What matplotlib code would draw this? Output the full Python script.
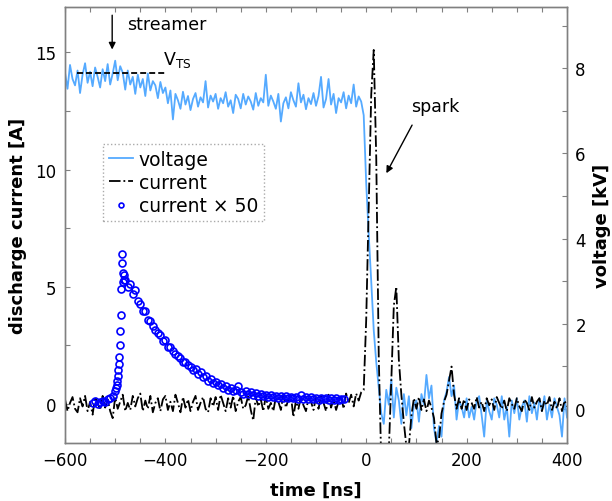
#!/usr/bin/env python3

import numpy as np
import matplotlib
matplotlib.use('Agg')
import matplotlib.pyplot as plt
from matplotlib.ticker import MultipleLocator

# sampling of the scope traces [ns]
T0 = -600
DT = 5

# voltage trace [kV], one value every DT ns starting at T0
voltage_kv = [
    7.90, 7.52, 8.08, 7.75, 7.60, 7.95, 7.42, 7.85, 8.12, 7.66,
    7.92, 7.58, 8.02, 7.80, 7.55, 7.98, 7.70, 8.10, 7.62, 7.88,
    8.18, 7.72, 8.05, 7.90, 7.50, 7.95, 7.62, 7.80, 7.40, 7.85,
    7.55, 7.75, 7.35, 7.88, 7.48, 7.70, 7.60, 7.30, 7.68, 7.42,
    7.55, 7.18, 7.48, 6.80, 7.40, 7.25, 7.05, 7.45, 7.15, 7.35,
    7.02, 7.28, 7.42, 7.10, 7.32, 7.20, 7.70, 7.08, 7.36, 7.22,
    7.40, 7.05, 7.30, 7.18, 7.44, 7.10, 7.25, 6.95, 7.38, 7.28,
    7.06, 7.40, 7.15, 7.34, 7.22, 7.03, 7.42, 7.12, 7.30, 7.20,
    7.85, 7.12, 7.36, 7.22, 7.05, 7.40, 6.75, 7.18, 7.32, 7.06,
    7.44, 7.25, 7.10, 7.65, 7.20, 7.38, 7.04, 7.30, 7.16, 7.42,
    7.12, 7.35, 7.80, 7.08, 7.28, 7.75, 7.15, 7.40, 6.95, 7.30,
    7.20, 7.44, 7.06, 7.36, 7.18, 7.62, 7.10, 7.34, 7.22, 6.90,
    5.30, 4.10, 3.00, 1.85, 1.10, 0.50, -0.10, -0.35, 0.45, 0.10,
    0.70, -0.20, 0.50, 0.20, -0.35, 0.35, -0.15, 0.30, -0.45, 0.10,
    0.20, -0.30, 0.35, 0.10, 0.80, 0.25, 0.55, -0.45, -0.80, -0.40,
    -0.65, 0.20, 0.40, 0.75, 0.30, 0.55, -0.25, 0.20, 0.05, -0.20,
    0.25, -0.20, 0.05, -0.25, 0.20, 0.30, -0.15, -0.65, 0.20, -0.05,
    -0.25, 0.25, 0.10, -0.20, 0.30, -0.25, 0.05, -0.65, 0.20, -0.10,
    0.25, -0.25, 0.05, 0.20, -0.30, 0.30, -0.10, 0.15, -0.25, 0.25,
    -0.05, 0.30, -0.25, 0.10, -0.20, 0.25, 0.05, -0.15, -0.65, 0.25,
    -0.20,
]

# discharge current [A], same sampling as the voltage
current_a = [
    0.20, -0.30, 0.05, 0.30, -0.20, -0.35, 0.25, -0.10, 0.35, -0.30,
    0.10, -0.45, 0.30, 0.05, -0.25, 0.35, -0.15, 0.20, -0.30, -0.60,
    0.30, -0.20, 0.10, 0.40, -0.30, 0.05, -0.25, 0.35, -0.10, 0.25,
    0.45, -0.30, 0.15, -0.20, 0.35, -0.35, 0.05, 0.25, -0.30, 0.20,
    0.35, -0.25, 0.10, -0.30, 0.40, 0.05, -0.35, 0.30, -0.15, 0.20,
    -0.30, 0.10, 0.35, -0.25, 0.05, 0.30, -0.20, -0.35, 0.25, -0.10,
    0.30, -0.25, 0.40, 0.05, -0.30, 0.25, -0.15, 0.35, -0.30, 0.10,
    0.30, -0.20, -0.05, 0.35, -0.25, -0.70, 0.30, -0.10, 0.20, -0.30,
    0.35, -0.20, 0.05, -0.30, 0.30, 0.10, -0.25, 0.40, -0.15, 0.20,
    0.35, -0.55, 0.15, -0.20, 0.30, -0.05, -0.30, 0.25, 0.10, -0.25,
    0.30, -0.20, 0.35, 0.05, -0.30, 0.40, -0.15, 0.20, -0.25, 0.10,
    0.35, -0.20, 0.45, 0.05, 0.40, -0.10, 0.45, 0.15, 0.50, 0.60,
    3.60, 8.50, 13.20, 15.10, 10.50, 2.00, -2.50, -3.00, -3.00, -2.00,
    1.00, 4.20, 5.00, 1.90, 0.40, -0.80, -1.80, -1.80, -0.50, 0.25,
    -0.20, 0.30, -0.25, 0.20, -0.30, 0.15, -0.15, -0.60, -1.70, -1.50,
    -0.40, 0.10, 0.40, 1.00, 1.60, 0.40, -0.20, 0.25, -0.20, 0.20,
    -0.25, 0.20, 0.05, -0.20, 0.30, -0.15, 0.10, -0.30, 0.25, -0.05,
    0.20, -0.25, 0.30, 0.05, -0.20, 0.15, -0.30, 0.25, 0.00, -0.20,
    0.25, -0.10, -0.30, 0.20, 0.05, -0.25, 0.30, -0.15, 0.10, 0.25,
    -0.30, 0.15, -0.05, 0.30, -0.25, 0.10, -0.20, 0.25, -0.30, 0.15,
    -0.10,
]

# streamer current multiplied by 50 [A]: coarse before and after the rise,
# 1 ns steps across the steep front
x50_before = [0.05, 0.12, 0.00, 0.10, 0.15, 0.08, 0.20, 0.25, 0.35, 0.55]
x50_front = [0.70, 0.80, 1.00, 1.20, 1.45, 1.70, 2.00, 2.50, 3.10,
             3.80, 4.90, 6.00, 6.40, 5.60, 5.20, 5.50, 5.30]
x50_decay = [
    5.30, 5.00, 5.10, 4.70, 4.85, 4.40, 4.25, 3.95, 3.95, 3.60,
    3.55, 3.35, 3.15, 3.05, 2.95, 2.70, 2.75, 2.45, 2.45, 2.25,
    2.15, 2.05, 1.95, 1.80, 1.80, 1.65, 1.60, 1.45, 1.50, 1.30,
    1.35, 1.15, 1.20, 1.00, 1.05, 0.90, 0.95, 0.80, 0.85, 0.70,
    0.78, 0.62, 0.68, 0.56, 0.62, 0.75, 0.52, 0.45, 0.55, 0.42,
    0.50, 0.38, 0.46, 0.36, 0.44, 0.33, 0.40, 0.30, 0.38, 0.29,
    0.36, 0.27, 0.35, 0.26, 0.33, 0.24, 0.32, 0.25, 0.31, 0.22,
    0.40, 0.23, 0.30, 0.20, 0.29, 0.21, 0.28, 0.19, 0.27, 0.20,
    0.26, 0.18, 0.25, 0.19, 0.24, 0.17, 0.23, 0.20,
]

V_TS = 7.9  # streamer threshold voltage [kV]

VOLT_COLOR = '#55aaff'
SPINE_COLOR = '#808080'


def style_axis(ax):
    for spine in ax.spines.values():
        spine.set_color(SPINE_COLOR)
        spine.set_linewidth(1.0)
    ax.tick_params(which='both', direction='in', length=3.5, width=0.8,
                   color=SPINE_COLOR, labelsize=12, pad=6)


def main():
    t = T0 + DT * np.arange(len(voltage_kv))
    t_cur = T0 + DT * np.arange(len(current_a))
    t_x50 = np.concatenate([
        -545 + 5 * np.arange(len(x50_before)),
        -498 + np.arange(len(x50_front)),
        -480 + 5 * np.arange(len(x50_decay)),
    ])
    x50 = np.concatenate([x50_before, x50_front, x50_decay])

    fig = plt.figure(figsize=(6.12, 5.02), dpi=100)
    ax1 = fig.add_axes([0.1062, 0.1155, 0.8203, 0.8685])
    ax2 = ax1.twinx()
    # current axis drawn above the voltage axis
    ax1.set_zorder(ax2.get_zorder() + 1)
    ax1.patch.set_visible(False)

    hv, = ax2.plot(t, voltage_kv, color=VOLT_COLOR, lw=1.3, label='voltage')
    ax2.plot([-576, -401], [V_TS, V_TS], color='black', lw=1.3,
             linestyle=(0, (3.3, 1.7)))

    hc, = ax1.plot(t_cur, current_a, color='black', lw=1.3,
                   linestyle='-.', label='current')
    hm, = ax1.plot(t_x50, x50, linestyle='none', marker='o', ms=5,
                   mfc='none', mec='blue', mew=1.2, label='current × 50')

    ax1.set_xlim(-600, 400)
    ax1.set_ylim(-1.66, 16.93)
    ax2.set_ylim(-0.80, 9.44)

    ax1.xaxis.set_major_locator(MultipleLocator(200))
    ax1.xaxis.set_minor_locator(MultipleLocator(50))
    ax1.yaxis.set_major_locator(MultipleLocator(5))
    ax1.yaxis.set_minor_locator(MultipleLocator(2.5))
    ax2.yaxis.set_major_locator(MultipleLocator(2))
    ax2.yaxis.set_minor_locator(MultipleLocator(1))

    style_axis(ax1)
    style_axis(ax2)
    ax1.tick_params(which='both', top=True, right=False)

    ax1.set_xlabel('time [ns]', fontsize=13, fontweight='bold', labelpad=8)
    ax1.set_ylabel('discharge current [A]', fontsize=13, fontweight='bold',
                   labelpad=6)
    ax2.set_ylabel('voltage [kV]', fontsize=13, fontweight='bold',
                   labelpad=5)

    # annotations
    ax1.annotate('', xy=(-506, 15.0), xytext=(-506, 16.7),
                 arrowprops=dict(arrowstyle='-|>', color='black', lw=1,
                                 mutation_scale=10))
    ax1.text(-476, 16.2, 'streamer', fontsize=12.5, va='center', ha='left')
    ax1.text(-405, 14.5, r'$\mathregular{V_{TS}}$', fontsize=12.5,
             va='baseline', ha='left')
    ax1.annotate('', xy=(37.5, 9.74), xytext=(94, 12.0),
                 arrowprops=dict(arrowstyle='-|>', color='black', lw=1,
                                 mutation_scale=10))
    ax1.text(90, 12.7, 'spark', fontsize=12.5, va='center', ha='left')

    leg = ax1.legend(handles=[hv, hc, hm], loc='upper left',
                     bbox_to_anchor=(0.0763, 0.686), borderaxespad=0,
                     fontsize=13.5, handlelength=1.3, handletextpad=0.3,
                     labelspacing=0.23, borderpad=0.3, markerscale=0.7,
                     fancybox=False, framealpha=1)
    frame = leg.get_frame()
    frame.set_edgecolor('#aaaaaa')
    frame.set_linestyle(':')
    frame.set_linewidth(1.0)

    fig.savefig('out.png', dpi=100)


if __name__ == "__main__":
    main()
